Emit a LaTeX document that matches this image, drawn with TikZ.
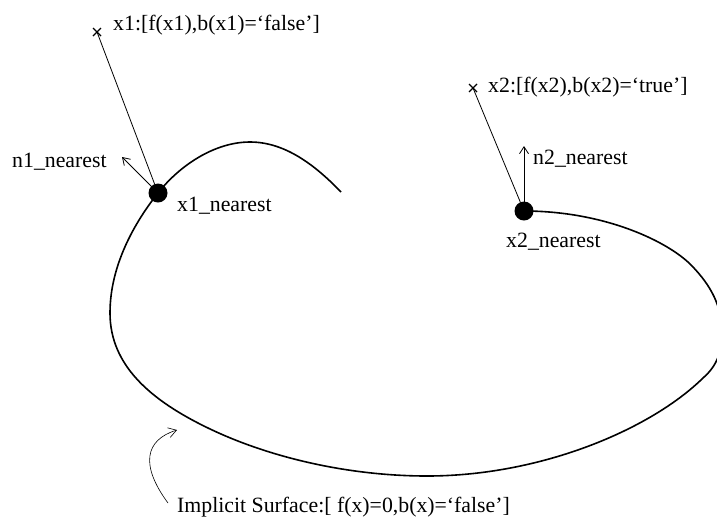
\documentclass[tikz,border=0pt]{standalone}
\usepackage{fontspec}
\setmainfont{Liberation Serif}
\usetikzlibrary{arrows.meta,calc}
\begin{document}
\begin{tikzpicture}[x=1pt,y=-1pt,
  lbl/.style={inner sep=0pt,anchor=west,font=\fontsize{21.8}{26}\selectfont},
  dot/.style={circle,fill=black,inner sep=0pt,minimum size=19pt},
  thin line/.style={line width=0.8pt},
  crossmark/.style={line width=1.2pt},
  normal/.style={line width=0.8pt,-{Straight Barb[length=7pt,width=9pt,line width=0.8pt]}},
  surface/.style={line width=1.6pt}]
\useasboundingbox (0,0) rectangle (717,523);
\begin{scope}
\clip (0,0) rectangle (717,523);
\draw[surface] (341,192) .. controls (315,165) and (285,142) .. (250,142)
  .. controls (215,142) and (180,165) .. (158,193)
  .. controls (135,222) and (110,265) .. (110,313)
  .. controls (110,365) and (150,400) .. (208,428)
  .. controls (270,458) and (350,476) .. (427,476)
  .. controls (540,476) and (650,430) .. (703,378)
  .. controls (718,365) and (722,350) .. (722,333)
  .. controls (722,305) and (710,285) .. (693,267)
  .. controls (670,242) and (605,211) .. (524,211);
\end{scope}
% points
\node[dot] (n1) at (158,193) {};
\node[dot] (n2) at (524,211) {};
\coordinate (c1) at (97,32);
\coordinate (c2) at (473,88);
\draw[crossmark] ($(c1)+(-4,-4)$) -- ($(c1)+(4,4)$) ($(c1)+(-4,4)$) -- ($(c1)+(4,-4)$);
\draw[crossmark] ($(c2)+(-4,-4)$) -- ($(c2)+(4,4)$) ($(c2)+(-4,4)$) -- ($(c2)+(4,-4)$);
\draw[thin line] (c1) -- (n1);
\draw[thin line] (c2) -- (n2);
\coordinate (a1) at (122,157);
\coordinate (a2) at (524,146);
\draw[normal] (n1.center) -- (a1);
\draw[normal] (n2.center) -- (a2);
% labels
\node[lbl] (t1) at (113,25) {x1:[f(x1),b(x1)=‘false’]};
\node[lbl] (t2) at (488,87) {x2:[f(x2),b(x2)=‘true’]};
\node[lbl] (tn1) at (12,162) {n1\_nearest};
\node[lbl] (tx1) at (177,206) {x1\_nearest};
\node[lbl] (tn2) at (533,159) {n2\_nearest};
\node[lbl] (tx2) at (506,242) {x2\_nearest};
\node[lbl] (ts) at (177,507) {Implicit Surface:[ f(x)=0,b(x)=‘false’]};
\coordinate (sa) at (177,430);
\coordinate (sb) at (168,503);
\draw[line width=0.6pt,-{Straight Barb[length=8pt,width=10pt,line width=0.6pt]}] (sb) .. controls (140,465) and (145,440) .. (sa);
\end{tikzpicture}
\end{document}
